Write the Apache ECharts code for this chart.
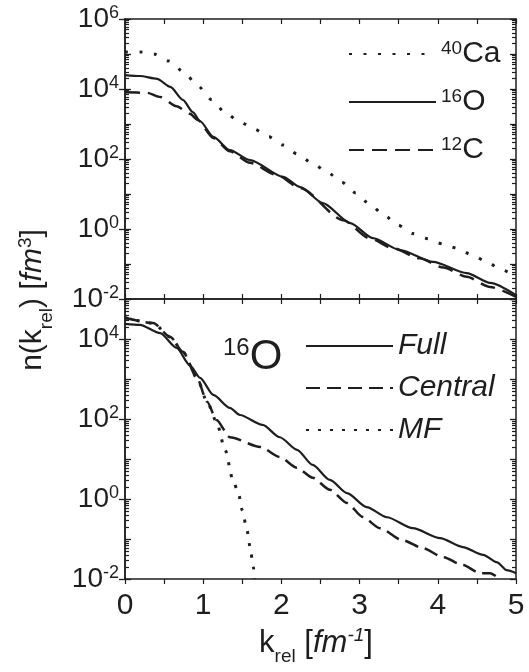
<!DOCTYPE html>
<html>
<head>
<meta charset="utf-8">
<script src="https://cdn.jsdelivr.net/npm/echarts@6/dist/echarts.min.js"></script>
<style>
  html, body { margin: 0; padding: 0; background: #fff; }
  #chart { width: 529px; height: 672px; }
</style>
</head>
<body>
<div id="chart"></div>
<script>
// top panel: nuclei comparison
var kCa40 = [0, 0.19, 0.37, 0.56, 0.75, 0.93, 1.11, 1.29, 1.47, 1.65, 1.84, 2.02, 2.2, 2.39, 2.58, 2.77, 2.95, 3.13, 3.31, 3.49, 3.68, 3.87, 4.07, 4.25, 4.44, 4.63, 4.81, 5.0];
var nCa40 = [1.15e5, 1.15e5, 1.0e5, 6.3e4, 3.1e4, 1.23e4, 4.9e3, 2.0e3, 1.15e3, 720, 430, 250, 140, 78, 43, 22, 10.7, 5.1, 2.5, 1.3, 0.74, 0.53, 0.37, 0.28, 0.18, 0.115, 0.068, 0.046];

var kO16 = [0, 0.19, 0.41, 0.58, 0.74, 0.87, 0.96, 1.13, 1.34, 1.6, 2.02, 2.24, 2.53, 2.88, 3.17, 3.52, 3.94, 4.37, 4.67, 5.0];
var nO16 = [2.5e4, 2.35e4, 1.95e4, 1.15e4, 4.9e3, 2.15e3, 1.2e3, 430, 180, 93, 31, 15.8, 5.5, 1.48, 0.55, 0.25, 0.115, 0.055, 0.029, 0.0129];

var kC12 = [0, 0.28, 0.45, 0.66, 0.83, 0.93, 1.13, 1.34, 1.6, 1.94, 2.24, 2.79, 3.13, 3.43, 3.77, 4.07, 4.37, 4.67, 5.0];
var nC12 = [8.1e3, 7.8e3, 5.9e3, 3.2e3, 1.95e3, 1.3e3, 400, 166, 78, 35, 14.8, 1.78, 0.54, 0.28, 0.145, 0.079, 0.043, 0.022, 0.0115];

// bottom panel: 16O contributions
var kFull = [0, 0.19, 0.45, 0.66, 0.83, 0.96, 1.13, 1.34, 1.47, 1.76, 1.98, 2.2, 2.4, 2.62, 2.84, 3.09, 3.35, 3.68, 4.03, 4.32, 4.58, 4.76, 4.88, 5.0];
var nFull = [2.4e4, 2.25e4, 1.4e4, 6.0e3, 2.2e3, 1.07e3, 400, 190, 126, 71, 35, 17, 7.1, 3.0, 1.4, 0.63, 0.35, 0.186, 0.105, 0.063, 0.04, 0.026, 0.0166, 0.014];

var kCentral = [0, 0.36, 0.58, 0.74, 0.92, 1.05, 1.17, 1.34, 1.73, 1.98, 2.2, 2.4, 2.62, 2.84, 3.04, 3.26, 3.55, 3.81, 4.07, 4.32, 4.54, 4.67, 4.76];
var nCentral = [3.4e4, 2.5e4, 1.12e4, 4.8e3, 1.07e3, 270, 95, 35, 20, 11.2, 6.0, 3.4, 1.7, 0.79, 0.355, 0.186, 0.093, 0.059, 0.035, 0.0224, 0.014, 0.014, 0.0112];

var kMF = [0, 0.36, 0.58, 0.74, 0.92, 1.05, 1.17, 1.28, 1.38, 1.45, 1.5, 1.56, 1.6, 1.64, 1.66];
var nMF = [3.4e4, 2.5e4, 1.12e4, 4.8e3, 1.07e3, 270, 85, 17, 3.0, 1.4, 0.52, 0.166, 0.063, 0.02, 0.01];

var xTicks = [0, 1, 2, 3, 4, 5];

function zip(xs, ys) {
    return xs.map(function (x, i) { return [x, ys[i]]; });
}

var ink = '#1e1e1e';
var font = 'Liberation Sans, Arial, sans-serif';

// decade and sub-decade tick values between 10^lo and 10^hi
function decades(lo, hi, step) {
    var out = [];
    for (var e = lo; e <= hi; e += step) out.push(Math.pow(10, e));
    return out;
}
function subDecades(lo, hi) {
    var out = [];
    for (var e = lo; e < hi; e++) {
        for (var m = 2; m <= 9; m++) out.push(m * Math.pow(10, e));
    }
    return out;
}

function expLabel(v) {
    var e = Math.round(Math.log(v) / Math.LN10);
    if (e % 2 !== 0) return '';
    return '{b|10}{s|' + e + '}';
}

function makeX(grid, pos, labels) {
    return {
        type: 'value', gridIndex: grid, position: pos,
        min: 0, max: 5, interval: 0.5,
        axisLine: { lineStyle: { color: ink, width: 1.5 } },
        axisTick: { show: true, inside: !labels, length: 5, lineStyle: { color: ink, width: 1.2 } },
        splitLine: { show: false },
        axisLabel: {
            show: labels, margin: 12, color: ink, fontFamily: font, fontSize: 30,
            formatter: function (v) { return xTicks.indexOf(v) >= 0 ? String(v) : ''; }
        }
    };
}

// one log axis layer: kind = 'label' | 'major' | 'minor'
function makeY(grid, pos, maxExp, kind) {
    var ax = {
        type: 'log', logBase: 10, gridIndex: grid, position: pos,
        min: 0.01, max: Math.pow(10, maxExp),
        axisLine: { show: kind !== 'minor', lineStyle: { color: ink, width: 1.5 } },
        splitLine: { show: false },
        axisLabel: { show: false },
        axisTick: { show: true, lineStyle: { color: ink, width: 1.3 } }
    };
    if (kind === 'label') {
        ax.axisTick.inside = false;
        ax.axisTick.length = 6;
        ax.axisTick.customValues = decades(-2, maxExp, 2);
        ax.axisLabel = {
            show: true, margin: 6,
            customValues: decades(-2, maxExp, 2),
            formatter: expLabel,
            rich: {
                b: { fontSize: 28, fontFamily: font, color: ink, lineHeight: 30 },
                s: { fontSize: 18, fontFamily: font, color: ink, verticalAlign: 'top' }
            }
        };
    } else if (kind === 'major') {
        ax.axisTick.inside = true;
        ax.axisTick.length = 6;
        ax.axisTick.customValues = decades(-2, maxExp, 1);
    } else {
        ax.axisTick.inside = true;
        ax.axisTick.length = 4;
        ax.axisTick.lineStyle.width = 1.2;
        ax.axisTick.customValues = subDecades(-2, maxExp);
    }
    return ax;
}

function curve(name, xi, yi, data, dash, width) {
    return {
        name: name, type: 'line', xAxisIndex: xi, yAxisIndex: yi,
        data: data, showSymbol: false, symbol: 'none',
        smooth: 0.25, smoothMonotone: 'x',
        lineStyle: { color: ink, width: width, type: dash },
        itemStyle: { color: ink },
        emphasis: { disabled: true }
    };
}

var legendNames = {
    Ca40: '{s|40}{m|Ca}', O16: '{s|16}{m|O}', C12: '{s|12}{m|C}',
    Full: '{i|Full}', Central: '{i|Central}', MF: '{i|MF}'
};
var legendRich = {
    m: { fontSize: 30, fontFamily: font, color: ink, lineHeight: 30 },
    s: { fontSize: 19, fontFamily: font, color: ink, verticalAlign: 'top', padding: [0, 0, 4, 0] },
    i: { fontSize: 30, fontFamily: font, fontStyle: 'italic', color: ink, lineHeight: 30 }
};

var yAxes = [];
[[0, 6], [1, 5]].forEach(function (g) {
    yAxes.push(makeY(g[0], 'left', g[1], 'label'));
    yAxes.push(makeY(g[0], 'left', g[1], 'major'));
    yAxes.push(makeY(g[0], 'left', g[1], 'minor'));
    yAxes.push(makeY(g[0], 'right', g[1], 'major'));
    yAxes.push(makeY(g[0], 'right', g[1], 'minor'));
});

var chart = echarts.init(document.getElementById('chart'), null, { renderer: 'canvas' });
chart.setOption({
    backgroundColor: '#fff',
    animation: false,
    grid: [
        { left: 125, top: 19, width: 391, height: 280 },
        { left: 125, top: 299, width: 391, height: 280 }
    ],
    xAxis: [makeX(0, 'bottom', false), makeX(0, 'top', false), makeX(1, 'bottom', true), makeX(1, 'top', false)],
    yAxis: yAxes,
    legend: [
        {
            data: ['Ca40', 'O16', 'C12'], orient: 'vertical', left: 343, top: 34,
            itemWidth: 87, itemHeight: 30, itemGap: 18, selectedMode: false,
            itemStyle: { opacity: 0 },
            formatter: function (n) { return legendNames[n]; },
            textStyle: { rich: legendRich }
        },
        {
            data: ['Full', 'Central', 'MF'], orient: 'vertical', left: 300, top: 326,
            itemWidth: 87, itemHeight: 30, itemGap: 12, selectedMode: false,
            itemStyle: { opacity: 0 },
            formatter: function (n) { return legendNames[n]; },
            textStyle: { rich: legendRich }
        }
    ],
    graphic: [
        {
            type: 'text', x: 223, y: 357,
            style: {
                text: '{s|16}{m|O}', verticalAlign: 'middle', align: 'left',
                rich: {
                    m: { fontSize: 42, fontFamily: font, fill: ink, lineHeight: 42 },
                    s: { fontSize: 24, fontFamily: font, fill: ink, verticalAlign: 'top', padding: [0, 0, 4, 0] }
                }
            }
        },
        {
            type: 'text', x: 316, y: 643,
            style: {
                text: '{a|k}{sub|rel}{a| [}{i|fm}{sup|-1}{a|]}', align: 'center', verticalAlign: 'middle',
                rich: {
                    a: { fontSize: 31, fontFamily: font, fill: ink, lineHeight: 34 },
                    i: { fontSize: 31, fontFamily: font, fontStyle: 'italic', fill: ink, lineHeight: 34 },
                    sub: { fontSize: 19, fontFamily: font, fill: ink, verticalAlign: 'bottom', padding: [0, 0, -6, 0] },
                    sup: { fontSize: 19, fontFamily: font, fontStyle: 'italic', fill: ink, verticalAlign: 'top' }
                }
            }
        },
        {
            type: 'text', x: 33, y: 300, rotation: Math.PI / 2,
            style: {
                text: '{a|n(k}{sub|rel}{a|) [}{i|fm}{sup|3}{a|]}', align: 'center', verticalAlign: 'middle',
                rich: {
                    a: { fontSize: 30, fontFamily: font, fill: ink, lineHeight: 34 },
                    i: { fontSize: 30, fontFamily: font, fontStyle: 'italic', fill: ink, lineHeight: 34 },
                    sub: { fontSize: 19, fontFamily: font, fill: ink, verticalAlign: 'bottom', padding: [0, 0, -6, 0] },
                    sup: { fontSize: 19, fontFamily: font, fill: ink, verticalAlign: 'top' }
                }
            }
        }
    ],
    series: [
        curve('Ca40', 0, 0, zip(kCa40, nCa40), [3, 11.5], 3),
        curve('O16', 0, 0, zip(kO16, nO16), 'solid', 2.2),
        curve('C12', 0, 0, zip(kC12, nC12), [15, 8], 2.5),
        curve('Full', 2, 5, zip(kFull, nFull), 'solid', 2.2),
        curve('Central', 2, 5, zip(kCentral, nCentral), [14, 7], 2.5),
        curve('MF', 2, 5, zip(kMF, nMF), [3, 9], 3)
    ]
});
</script>
</body>
</html>
